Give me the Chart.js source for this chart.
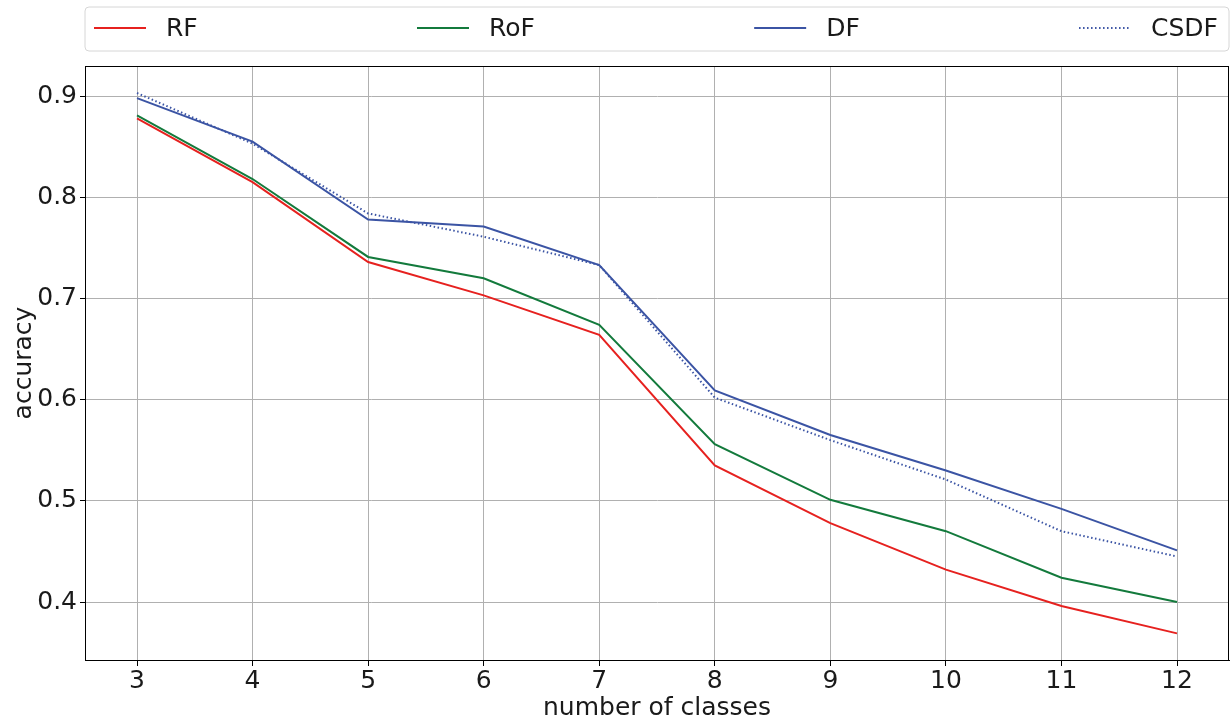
<!DOCTYPE html>
<html>
<head>
<meta charset="utf-8">
<script src="https://cdn.jsdelivr.net/npm/chart.js@4.4.1/dist/chart.umd.min.js"></script>
<style>
html,body{margin:0;padding:0;background:#fff;}
#wrap{width:1230px;height:718px;position:relative;}
</style>
</head>
<body>
<div id="wrap"><canvas id="c"></canvas></div>
<script>
const classes = [3, 4, 5, 6, 7, 8, 9, 10, 11, 12];
const rfAcc   = [0.878, 0.815, 0.736, 0.703, 0.664, 0.535, 0.478, 0.432, 0.396, 0.369];
const rofAcc  = [0.881, 0.818, 0.741, 0.720, 0.674, 0.556, 0.501, 0.470, 0.424, 0.400];
const dfAcc   = [0.898, 0.855, 0.778, 0.771, 0.733, 0.609, 0.565, 0.530, 0.492, 0.451];
const csdfAcc = [0.903, 0.853, 0.784, 0.761, 0.733, 0.602, 0.560, 0.521, 0.470, 0.445];
const xTicks = [3, 4, 5, 6, 7, 8, 9, 10, 11, 12];
const yTicks = [0.4, 0.5, 0.6, 0.7, 0.8, 0.9];
const seriesNames = ['RF', 'RoF', 'DF', 'CSDF'];

const FONT = 'DejaVu Sans';
const FS = 25;
const colors = ['#e6211f', '#137a3c', '#3b54a4', '#3b54a4'];

function pts(arr){ return classes.map((x,i)=>({x:x, y:arr[i]})); }

const legendPlugin = {
  id: 'mplLegend',
  afterDraw(chart){
    const ctx = chart.ctx;
    const ca = chart.chartArea;
    const bx = ca.left, by = 7, bw = ca.right - ca.left, bh = 44;
    ctx.save();
    ctx.beginPath();
    const r = 4;
    ctx.moveTo(bx+r, by);
    ctx.lineTo(bx+bw-r, by); ctx.arcTo(bx+bw, by, bx+bw, by+r, r);
    ctx.lineTo(bx+bw, by+bh-r); ctx.arcTo(bx+bw, by+bh, bx+bw-r, by+bh, r);
    ctx.lineTo(bx+r, by+bh); ctx.arcTo(bx, by+bh, bx, by+bh-r, r);
    ctx.lineTo(bx, by+r); ctx.arcTo(bx, by, bx+r, by, r);
    ctx.closePath();
    ctx.fillStyle = 'rgba(255,255,255,0.8)';
    ctx.fill();
    ctx.strokeStyle = '#d6d6d6';
    ctx.lineWidth = 1;
    ctx.stroke();
    ctx.font = FS + 'px "' + FONT + '"';
    const handle = 52, gapT = 20;
    const ds = chart.data.datasets;
    const widths = ds.map(d => handle + gapT + ctx.measureText(d.label).width);
    const innerL = bx + 9, innerR = bx + bw - 11;
    const total = widths.reduce((a,b)=>a+b,0);
    const gap = (innerR - innerL - total) / (ds.length - 1);
    let x = innerL;
    const cy = 28;
    ds.forEach((d,i)=>{
      ctx.beginPath();
      ctx.setLineDash(d.borderDash || []);
      ctx.strokeStyle = d.borderColor;
      ctx.lineWidth = d.borderWidth;
      ctx.moveTo(x, cy); ctx.lineTo(x+handle, cy);
      ctx.stroke();
      ctx.setLineDash([]);
      ctx.fillStyle = '#1a1a1a';
      ctx.textBaseline = 'middle';
      ctx.textAlign = 'left';
      ctx.fillText(d.label, x + handle + gapT, cy + 1);
      x += widths[i] + gap;
    });
    ctx.restore();
  }
};

const framePlugin = {
  id: 'frame',
  afterDatasetsDraw(chart){
    const ctx = chart.ctx, ca = chart.chartArea;
    ctx.save();
    ctx.strokeStyle = '#000';
    ctx.lineWidth = 1;
    ctx.strokeRect(Math.round(ca.left)+0.5, Math.round(ca.top)+0.5, Math.round(ca.right-ca.left)-1, Math.round(ca.bottom-ca.top));
    ctx.restore();
  }
};

new Chart(document.getElementById('c'), {
  type: 'line',
  data: {
    datasets: [
      {label: seriesNames[0], data: pts(rfAcc), borderColor: colors[0], borderWidth: 2},
      {label: seriesNames[1], data: pts(rofAcc), borderColor: colors[1], borderWidth: 2},
      {label: seriesNames[2], data: pts(dfAcc), borderColor: colors[2], borderWidth: 2},
      {label: seriesNames[3], data: pts(csdfAcc), borderColor: colors[3], borderWidth: 2, borderDash: [1.5, 2.5]}
    ]
  },
  options: {
    responsive: true,
    maintainAspectRatio: false,
    animation: false,
    layout: {padding: {top: 66, right: 1, left: 0, bottom: 0}},
    elements: {point: {radius: 0, hoverRadius: 0}, line: {tension: 0, fill: false, borderCapStyle: 'butt'}},
    plugins: {legend: {display: false}, tooltip: {enabled: false}},
    scales: {
      x: {
        type: 'linear',
        min: 2.55, max: 12.45,
        afterBuildTicks: s => { s.ticks = xTicks.map(v => ({value: v})); },
        afterFit: s => { s.height = 58; },
        ticks: {font: {family: FONT, size: FS}, color: '#1a1a1a', padding: 0, maxRotation: 0, autoSkip: false},
        grid: {color: '#b0b0b0', lineWidth: 1, tickColor: '#000', tickLength: 6, drawTicks: true},
        border: {display: true, color: '#000', width: 1},
        title: {display: true, text: 'number of classes', font: {family: FONT, size: FS}, color: '#1a1a1a', padding: {top: 0, bottom: -5}}
      },
      y: {
        type: 'linear',
        min: 0.3427, max: 0.9297,
        afterBuildTicks: s => { s.ticks = yTicks.map(v => ({value: v})); },
        afterFit: s => { s.width = 85; },
        ticks: {font: {family: FONT, size: FS}, color: '#1a1a1a', padding: 3, callback: v => v.toFixed(1)},
        grid: {color: '#b0b0b0', lineWidth: 1, tickColor: '#000', tickLength: 5, drawTicks: true},
        border: {display: true, color: '#000', width: 1},
        title: {display: true, text: 'accuracy', font: {family: FONT, size: FS}, color: '#1a1a1a', padding: {top: 9, bottom: 0}}
      }
    }
  },
  plugins: [legendPlugin, framePlugin]
});
</script>
</body>
</html>
